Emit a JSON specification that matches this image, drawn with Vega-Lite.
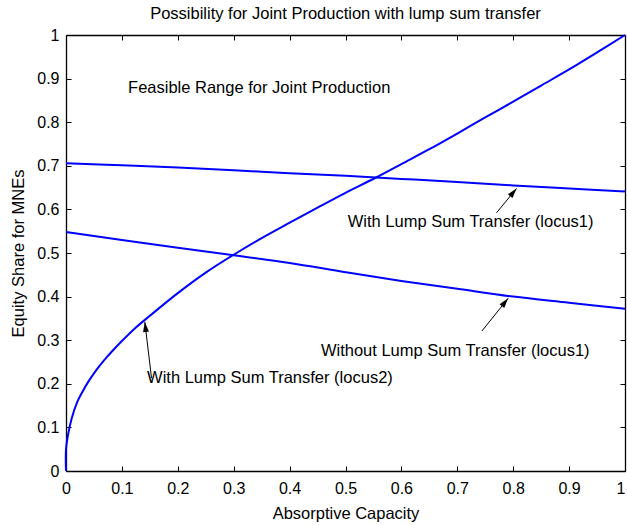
{
  "$schema": "https://vega.github.io/schema/vega-lite/v6.json",
  "width": 559,
  "height": 436,
  "autosize": {"type": "none"},
  "padding": {"left": 66, "top": 35, "right": 2, "bottom": 54},
  "background": "white",
  "title": {"text": "Possibility for Joint Production with lump sum transfer", "font": "Liberation Sans", "fontSize": 16.5, "fontWeight": "normal", "color": "black", "offset": 5},
  "datasets": {
    "curves": [
      {"series": "upper", "x": 0.0, "y": 0.706},
      {"series": "upper", "x": 0.1, "y": 0.701},
      {"series": "upper", "x": 0.2, "y": 0.696},
      {"series": "upper", "x": 0.3, "y": 0.690},
      {"series": "upper", "x": 0.4, "y": 0.683},
      {"series": "upper", "x": 0.5, "y": 0.677},
      {"series": "upper", "x": 0.6, "y": 0.670},
      {"series": "upper", "x": 0.7, "y": 0.663},
      {"series": "upper", "x": 0.8, "y": 0.655},
      {"series": "upper", "x": 0.9, "y": 0.648},
      {"series": "upper", "x": 1.0, "y": 0.641},
      {"series": "lower", "x": 0.0, "y": 0.548},
      {"series": "lower", "x": 0.1, "y": 0.530},
      {"series": "lower", "x": 0.2, "y": 0.512},
      {"series": "lower", "x": 0.3, "y": 0.495},
      {"series": "lower", "x": 0.4, "y": 0.477},
      {"series": "lower", "x": 0.5, "y": 0.456},
      {"series": "lower", "x": 0.6, "y": 0.436},
      {"series": "lower", "x": 0.7, "y": 0.418},
      {"series": "lower", "x": 0.8, "y": 0.400},
      {"series": "lower", "x": 0.9, "y": 0.386},
      {"series": "lower", "x": 1.0, "y": 0.372},
      {"series": "locus2", "x": 0.0, "y": 0.0},
      {"series": "locus2", "x": 0.0, "y": 0.05},
      {"series": "locus2", "x": 0.004, "y": 0.085},
      {"series": "locus2", "x": 0.010, "y": 0.12},
      {"series": "locus2", "x": 0.02, "y": 0.158},
      {"series": "locus2", "x": 0.03, "y": 0.183},
      {"series": "locus2", "x": 0.04, "y": 0.205},
      {"series": "locus2", "x": 0.05, "y": 0.224},
      {"series": "locus2", "x": 0.06, "y": 0.241},
      {"series": "locus2", "x": 0.073, "y": 0.261},
      {"series": "locus2", "x": 0.085, "y": 0.278},
      {"series": "locus2", "x": 0.1, "y": 0.298},
      {"series": "locus2", "x": 0.125, "y": 0.329},
      {"series": "locus2", "x": 0.15, "y": 0.356},
      {"series": "locus2", "x": 0.2, "y": 0.408},
      {"series": "locus2", "x": 0.25, "y": 0.455},
      {"series": "locus2", "x": 0.3, "y": 0.496},
      {"series": "locus2", "x": 0.35, "y": 0.534},
      {"series": "locus2", "x": 0.401, "y": 0.570},
      {"series": "locus2", "x": 0.45, "y": 0.604},
      {"series": "locus2", "x": 0.5, "y": 0.638},
      {"series": "locus2", "x": 0.553, "y": 0.672},
      {"series": "locus2", "x": 0.6, "y": 0.704},
      {"series": "locus2", "x": 0.65, "y": 0.738},
      {"series": "locus2", "x": 0.7, "y": 0.774},
      {"series": "locus2", "x": 0.75, "y": 0.811},
      {"series": "locus2", "x": 0.8, "y": 0.847},
      {"series": "locus2", "x": 0.85, "y": 0.884},
      {"series": "locus2", "x": 0.9, "y": 0.921},
      {"series": "locus2", "x": 0.95, "y": 0.96},
      {"series": "locus2", "x": 1.0, "y": 1.0}
    ],
    "labels": [
      {"label": "Feasible Range for Joint Production", "x": 0.111, "y": 0.878},
      {"label": "With Lump Sum Transfer (locus1)", "x": 0.504, "y": 0.571},
      {"label": "Without Lump Sum Transfer (locus1)", "x": 0.456, "y": 0.275},
      {"label": "With Lump Sum Transfer (locus2)", "x": 0.145, "y": 0.213}
    ],
    "arrows": [
      {"arrow": "a1", "x": 0.770, "y": 0.592, "x2": 0.806, "y2": 0.648},
      {"arrow": "a2", "x": 0.744, "y": 0.321, "x2": 0.791, "y2": 0.396},
      {"arrow": "a3", "x": 0.153, "y": 0.213, "x2": 0.141, "y2": 0.342}
    ]
  },
  "layer": [
    {
      "data": {"name": "curves"},
      "mark": {"type": "line", "color": "#0000ff", "strokeWidth": 2, "interpolate": "catmull-rom"},
      "encoding": {
        "x": {"field": "x", "type": "quantitative", "scale": {"domain": [0, 1], "nice": false},
              "axis": {"orient": "bottom", "title": "Absorptive Capacity", "titlePadding": 9, "ticks": false, "labelPadding": 9,
                       "labelAlign": {"condition": {"test": "datum.value === 1", "value": "right"}, "value": "center"}}},
        "y": {"field": "y", "type": "quantitative", "scale": {"domain": [0, 1], "nice": false},
              "axis": {"orient": "left", "title": "Equity Share for MNEs", "titlePadding": 10, "ticks": false, "labelPadding": 7}},
        "detail": {"field": "series"}
      }
    },
    {
      "data": {"name": "labels"},
      "mark": {"type": "text", "align": "left", "baseline": "middle", "font": "Liberation Sans", "fontSize": 16.5, "color": "black"},
      "encoding": {
        "x": {"field": "x", "type": "quantitative", "axis": {"orient": "top", "labels": false, "ticks": false, "title": null}},
        "y": {"field": "y", "type": "quantitative", "axis": {"orient": "right", "labels": false, "ticks": false, "title": null}},
        "text": {"field": "label"}
      }
    },
    {
      "data": {"name": "arrows"},
      "mark": {"type": "rule", "color": "black", "strokeWidth": 1},
      "encoding": {
        "x": {"field": "x", "type": "quantitative", "axis": {"orient": "bottom", "offset": -5, "domain": false, "labels": false, "title": null, "tickSize": 5}},
        "y": {"field": "y", "type": "quantitative", "axis": {"orient": "left", "offset": -5, "domain": false, "labels": false, "title": null, "tickSize": 5}},
        "x2": {"field": "x2"},
        "y2": {"field": "y2"}
      }
    },
    {
      "data": {"name": "arrows"},
      "transform": [{"filter": "datum.arrow === 'a1'"}],
      "mark": {"type": "point", "shape": "M0,0L-0.6,2L0.6,2Z", "filled": true, "color": "black", "size": 100, "opacity": 1, "angle": 39.5},
      "encoding": {
        "x": {"field": "x2", "type": "quantitative", "axis": {"orient": "top", "offset": -5, "domain": false, "labels": false, "title": null, "tickSize": 5}},
        "y": {"field": "y2", "type": "quantitative", "axis": {"orient": "right", "offset": -5, "domain": false, "labels": false, "title": null, "tickSize": 5}}
      }
    },
    {
      "data": {"name": "arrows"},
      "transform": [{"filter": "datum.arrow === 'a2'"}],
      "mark": {"type": "point", "shape": "M0,0L-0.6,2L0.6,2Z", "filled": true, "color": "black", "size": 100, "opacity": 1, "angle": 38.8},
      "encoding": {
        "x": {"field": "x2", "type": "quantitative", "axis": null},
        "y": {"field": "y2", "type": "quantitative", "axis": null}
      }
    },
    {
      "data": {"name": "arrows"},
      "transform": [{"filter": "datum.arrow === 'a3'"}],
      "mark": {"type": "point", "shape": "M0,0L-0.6,2L0.6,2Z", "filled": true, "color": "black", "size": 100, "opacity": 1, "angle": 353.2},
      "encoding": {
        "x": {"field": "x2", "type": "quantitative", "axis": null},
        "y": {"field": "y2", "type": "quantitative", "axis": null}
      }
    }
  ],
  "resolve": {"axis": {"x": "independent", "y": "independent"}},
  "config": {
    "view": {"stroke": null},
    "axis": {
      "grid": false,
      "values": [0, 0.1, 0.2, 0.3, 0.4, 0.5, 0.6, 0.7, 0.8, 0.9, 1],
      "labelExpr": "'' + datum.value",
      "domainColor": "black",
      "domainWidth": 1.3,
      "tickColor": "black",
      "tickWidth": 1,
      "labelFlush": false,
      "labelOverlap": false,
      "labelBound": false,
      "labelFont": "Liberation Sans",
      "labelFontSize": 16,
      "labelColor": "black",
      "titleFont": "Liberation Sans",
      "titleFontSize": 16.5,
      "titleFontWeight": "normal",
      "titleColor": "black"
    }
  }
}
